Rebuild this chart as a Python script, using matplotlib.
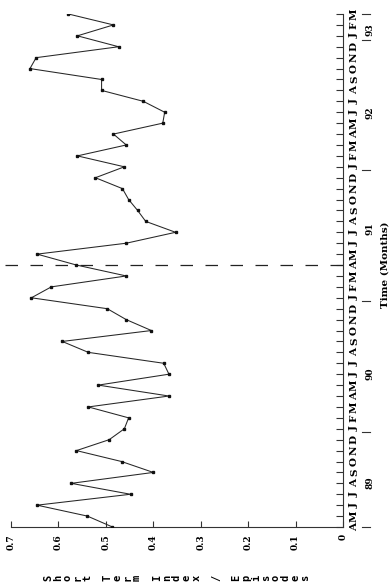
import matplotlib
matplotlib.use("Agg")
import matplotlib.pyplot as plt
import matplotlib.transforms as mtransforms

# monthly index, Apr 1989 .. Mar 1993
months = list("AMJJASONDJFMAMJJASONDJFMAMJJASONDJFMAMJJASONDJFM")
index = [0.486, 0.539, 0.645, 0.448, 0.573, 0.400, 0.467, 0.562, 0.493,
         0.461, 0.452, 0.537, 0.367, 0.516, 0.367, 0.378, 0.537, 0.592,
         0.404, 0.457, 0.497, 0.657, 0.615, 0.457, 0.562, 0.645, 0.457,
         0.353, 0.416, 0.433, 0.452, 0.465, 0.522, 0.461, 0.560, 0.457,
         0.484, 0.380, 0.376, 0.421, 0.509, 0.509, 0.660, 0.647, 0.473,
         0.560, 0.484, 0.579]
years = ["89", "90", "91", "92", "93"]
year_pos = [4.1, 14.0, 27.3, 38.0, 45.6]
year_breaks = [0, 8.7, 20.7, 32.7, 44.6, 47]
event_month = 24
index_ticks = [0, 0.1, 0.2, 0.3, 0.4, 0.5, 0.6, 0.7]
index_labels = ["0", "0.1", "0.2", "0.3", "0.4", "0.5", "0.6", "0.7"]
ylabel = "Short Term Index / Episodes"

W, H = 391, 586
fig = plt.figure(figsize=(W / 100, H / 100), dpi=100)
fig.patch.set_facecolor("white")

# page is turned on its side: time runs up, index runs right-to-left
ax = fig.add_axes([11 / W, 59 / H, 332 / W, 513 / H])
months_idx = list(range(len(index)))
ax.plot(index, months_idx, color="#262626", lw=0.75, marker="s", ms=2.0,
        mfc="#111111", mec="#111111", zorder=3)
ax.plot([0.712, 0.0], [event_month, event_month], color="#222222", lw=0.9,
        dashes=(10, 10), clip_on=False)

ax.set_xlim(0.7, 0)
ax.set_ylim(0, 47)
for s in ["top", "left"]:
    ax.spines[s].set_visible(False)
for s in ["bottom", "right"]:
    ax.spines[s].set_linewidth(0.8)
    ax.spines[s].set_color("#333333")

serif = "DejaVu Serif"
ax.set_xticks(index_ticks)
ax.set_xticklabels(index_labels, rotation=90, fontsize=6.5, fontweight="bold",
                   family=serif)
ax.tick_params(axis="x", direction="in", length=4, width=0.8, pad=5,
               color="#333333")

ax.yaxis.tick_right()
ax.set_yticks(months_idx)
ax.set_yticklabels(months, rotation=90, fontsize=7.5, fontweight="bold",
                   family=serif, va="center", ha="left")
ax.tick_params(axis="y", direction="in", length=5, width=0.8, pad=5,
               color="#333333")

trans = mtransforms.blended_transform_factory(ax.transAxes, ax.transData)
for y, lab in zip(year_pos, years):
    ax.text(1.08, y, lab, rotation=90, fontsize=6.5, fontweight="bold",
            family=serif, ha="center", va="center", transform=trans)
for b in year_breaks:
    ax.plot([1.058, 1.080], [b, b], color="#333333", lw=0.8,
            transform=trans, clip_on=False)

ax.text(1.127, 24, "Time (Months)", rotation=90, fontsize=7.5,
        fontweight="bold", family=serif, ha="center", va="center",
        transform=trans)

# axis title set one glyph at a time, each turned on its side
x0, step = 48, 9.9
for i, ch in enumerate(ylabel):
    if ch == " ":
        continue
    fig.text((x0 + i * step) / W, 1 - 578 / H, ch, rotation=90,
             fontsize=7.5, fontweight="bold", family="DejaVu Sans Mono",
             ha="center", va="center")

plt.savefig("out.png", dpi=100)
